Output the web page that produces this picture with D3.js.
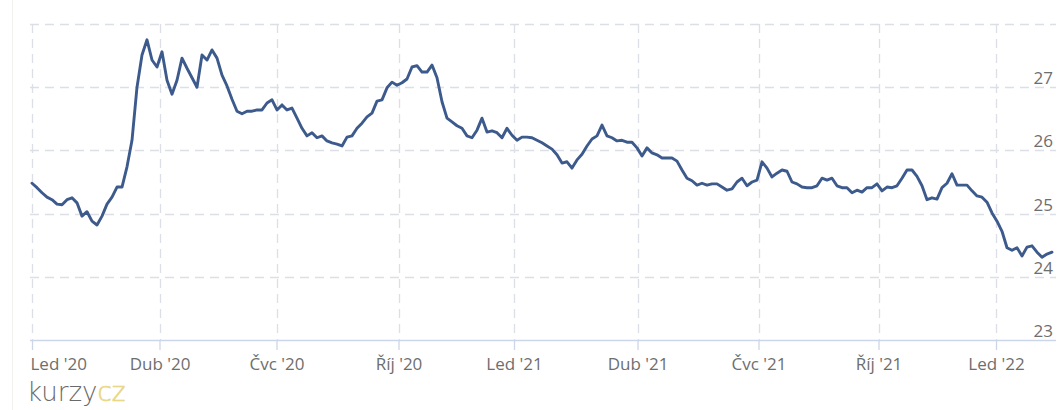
<!DOCTYPE html>
<html>
<head>
<meta charset="utf-8">
<script src="https://cdn.jsdelivr.net/npm/d3@7"></script>
<style>
  html, body { margin: 0; padding: 0; background: #ffffff; }
  svg { display: block; }
</style>
</head>
<body>
<svg id="chart" width="1064" height="410"></svg>
<script>
const rates = [
  25.48,25.41,25.33,25.26,25.22,25.15,25.14,25.22,25.25,25.17,
  24.96,25.03,24.88,24.82,24.96,25.15,25.26,25.42,25.42,25.74,
  26.16,27.00,27.51,27.75,27.43,27.32,27.56,27.11,26.89,27.11,
  27.46,27.30,27.15,27.00,27.51,27.43,27.59,27.46,27.19,27.02,
  26.81,26.62,26.58,26.62,26.62,26.64,26.64,26.75,26.80,26.64,
  26.72,26.64,26.67,26.51,26.35,26.23,26.28,26.20,26.23,26.15,
  26.12,26.10,26.07,26.21,26.23,26.35,26.43,26.53,26.59,26.78,
  26.80,26.99,27.08,27.03,27.07,27.13,27.32,27.34,27.24,27.24,
  27.35,27.15,26.77,26.51,26.45,26.39,26.35,26.23,26.20,26.32,
  26.51,26.29,26.31,26.28,26.20,26.35,26.24,26.16,26.21,26.21,
  26.20,26.16,26.12,26.07,26.02,25.93,25.80,25.82,25.72,25.85,
  25.94,26.07,26.18,26.23,26.40,26.23,26.20,26.15,26.16,26.13,
  26.13,26.04,25.91,26.04,25.96,25.93,25.88,25.88,25.88,25.83,
  25.69,25.56,25.52,25.45,25.48,25.45,25.47,25.47,25.42,25.37,
  25.39,25.50,25.56,25.44,25.50,25.53,25.82,25.72,25.58,25.64,
  25.69,25.67,25.50,25.47,25.42,25.41,25.41,25.44,25.56,25.53,
  25.56,25.44,25.41,25.41,25.33,25.37,25.34,25.41,25.41,25.47,
  25.36,25.42,25.41,25.44,25.56,25.69,25.69,25.59,25.44,25.22,
  25.25,25.23,25.41,25.48,25.63,25.45,25.45,25.45,25.36,25.28,
  25.26,25.18,25.01,24.88,24.72,24.46,24.42,24.46,24.33,24.47,
  24.49,24.39,24.31,24.36,24.39
];
const monthLabels = ["Led '20","Dub '20","Čvc '20","Říj '20","Led '21","Dub '21","Čvc '21","Říj '21","Led '22"];
const monthTickIndex = [0, 25.5, 48.9, 73.3, 96.4, 121.1, 145.3, 169.3, 192.8];
const yTicks = [23, 24, 25, 26, 27];
const yGrid = [23, 24, 25, 26, 27, 28];

// ---- LAYOUT ----
const plot = { left: 30, right: 1056, top: 24, bottom: 340 };
const svg = d3.select("#chart");

const x = d3.scaleLinear().domain([0, rates.length - 1]).range([32, 1052]);
const y = d3.scaleLinear().domain([23, 28]).range([plot.bottom, plot.top]);

// faint page edge
svg.append("line").attr("x1", 12.5).attr("x2", 12.5).attr("y1", 0).attr("y2", 410)
  .attr("stroke", "#f1f1ee").attr("stroke-width", 1);

// horizontal grid
svg.append("g").selectAll("line").data(yGrid.filter(d => d !== 23)).join("line")
  .attr("x1", plot.left).attr("x2", plot.right)
  .attr("y1", d => Math.round(y(d)) + 0.5).attr("y2", d => Math.round(y(d)) + 0.5)
  .attr("stroke", "#dcdfe6").attr("stroke-width", 1.3).attr("stroke-dasharray", "9,6");

// vertical grid
svg.append("g").selectAll("line").data(monthTickIndex).join("line")
  .attr("x1", d => Math.round(x(d)) + 0.5).attr("x2", d => Math.round(x(d)) + 0.5)
  .attr("y1", plot.top).attr("y2", plot.bottom)
  .attr("stroke", "#dcdfe6").attr("stroke-width", 1.3).attr("stroke-dasharray", "9,6");

// x axis
const xAxis = d3.axisBottom(x).tickValues(monthTickIndex)
  .tickFormat((d, i) => monthLabels[i]).tickSize(10).tickPadding(8);
const gx = svg.append("g").attr("transform", `translate(0,${plot.bottom})`).call(xAxis);
gx.select(".domain").attr("d", `M${plot.left},0.5H${plot.right}`).attr("stroke", "#ccd6eb").attr("stroke-width", 1.5);
gx.selectAll(".tick line").attr("stroke", "#ccd6eb").attr("stroke-width", 1.3);
gx.selectAll(".tick text")
  .attr("fill", "#6e6e6e").attr("font-family", "'Open Sans', sans-serif").attr("font-size", 17);
// keep first label inside the plot (justify)
gx.selectAll(".tick").each(function(d) {
  const t = d3.select(this).select("text");
  const w = this.querySelector("text").getComputedTextLength();
  const left = x(d) - w / 2;
  if (left < plot.left) t.attr("x", plot.left - x(d) + w / 2);
});

// y axis labels (inside plot, right-aligned above grid lines)
svg.append("g").selectAll("text").data(yTicks).join("text")
  .attr("x", 1053).attr("y", d => y(d) - 3)
  .attr("text-anchor", "end")
  .attr("fill", "#6e6e6e").attr("font-family", "'Open Sans', sans-serif").attr("font-size", 17)
  .text(d => d);

// series line
const line = d3.line().x((d, i) => x(i)).y(d => y(d)).curve(d3.curveLinear);
svg.append("path").datum(rates)
  .attr("d", line).attr("fill", "none")
  .attr("stroke", "#3d5a8c").attr("stroke-width", 2.9)
  .attr("stroke-linejoin", "round").attr("stroke-linecap", "round");

// logo
const logo = svg.append("text").attr("x", 27).attr("y", 401)
  .attr("font-family", "'DejaVu Sans', sans-serif").attr("font-weight", 200).attr("font-size", 26);
logo.append("tspan").attr("fill", "#6a6a6a").text("kurzy");
logo.append("tspan").attr("fill", "#f3e6a8").attr("stroke", "#e4cf72").attr("stroke-width", 0.6).text("cz");
</script>
</body>
</html>
